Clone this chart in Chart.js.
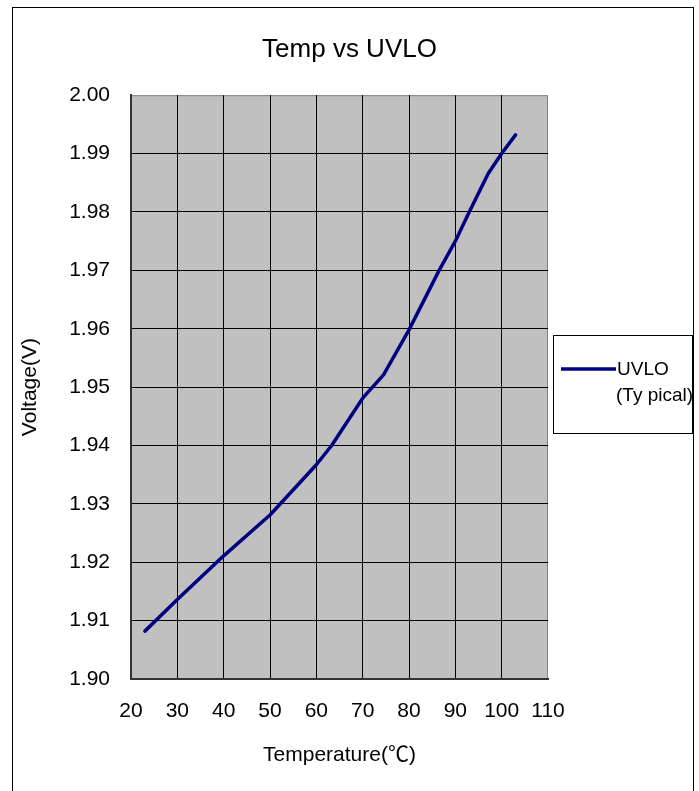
<!DOCTYPE html>
<html>
<head>
<meta charset="utf-8">
<title>Temp vs UVLO</title>
<script src="https://cdn.jsdelivr.net/npm/chart.js@4/dist/chart.umd.min.js"></script>
<style>
  html, body { margin: 0; padding: 0; background: #fff; }
  canvas { display: block; }
</style>
</head>
<body>
<canvas id="uvloChart" width="699" height="791"></canvas>
<script>
// ---- data ----
const temps = [23, 30, 40, 50, 60, 63.3, 70, 74.5, 80, 86.5, 90, 93, 97.1, 100, 103];
const uvlo  = [1.9082, 1.9136, 1.9211, 1.9281, 1.9367, 1.9400, 1.9481, 1.9521,
               1.9598, 1.9700, 1.9750, 1.9800, 1.9866, 1.9900, 1.9932];
const xTicks = [20, 30, 40, 50, 60, 70, 80, 90, 100, 110];
const yTicks = [1.90, 1.91, 1.92, 1.93, 1.94, 1.95, 1.96, 1.97, 1.98, 1.99, 2.00];
const seriesLabel = 'UVLO (Ty pical)';

const FONT = "'Liberation Sans', Arial, 'Noto Sans CJK JP', sans-serif";
const LINE_COLOR = '#000080';

// white page + outer frame + grey plot background
const framePlugin = {
  id: 'frame',
  beforeDraw(chart) {
    const { ctx, chartArea: a } = chart;
    ctx.save();
    ctx.fillStyle = '#fff';
    ctx.fillRect(0, 0, chart.width, chart.height);
    ctx.strokeStyle = '#000';
    ctx.lineWidth = 1;
    ctx.strokeRect(12.5, 7.5, 681, 800);
    ctx.fillStyle = '#c0c0c0';
    ctx.fillRect(a.left, a.top, a.right - a.left, a.bottom - a.top);
    ctx.strokeStyle = '#808080';
    ctx.strokeRect(a.left + 0.5, a.top + 0.5, a.right - a.left - 1, a.bottom - a.top);
    ctx.restore();
  }
};

// boxed legend on the right, label wrapped on two lines
const boxLegend = {
  id: 'boxLegend',
  afterDraw(chart) {
    const { ctx } = chart;
    const ds = chart.data.datasets[0];
    const parts = ds.label.split(' ');
    const lines = [parts[0], parts.slice(1).join(' ')];
    ctx.save();
    ctx.fillStyle = '#fff';
    ctx.fillRect(553, 335, 139, 98);
    ctx.strokeStyle = '#000';
    ctx.lineWidth = 1;
    ctx.strokeRect(553.5, 335.5, 139, 98);
    ctx.strokeStyle = ds.borderColor;
    ctx.lineWidth = 3.5;
    ctx.beginPath();
    ctx.moveTo(561, 369);
    ctx.lineTo(616, 369);
    ctx.stroke();
    ctx.fillStyle = '#000';
    ctx.textBaseline = 'middle';
    ctx.textAlign = 'left';
    ctx.font = "19px " + FONT;
    ctx.fillText(lines[0], 617, 370);
    ctx.fillText(lines[1], 616, 396);
    ctx.restore();
  }
};

const edgeColor = (ctx, edges) => edges.includes(ctx.tick && ctx.tick.value) ? 'rgba(0,0,0,0)' : '#000';

new Chart(document.getElementById('uvloChart'), {
  type: 'scatter',
  data: {
    datasets: [{
      label: seriesLabel,
      data: temps.map((t, i) => ({ x: t, y: uvlo[i] })),
      showLine: true,
      borderColor: LINE_COLOR,
      backgroundColor: LINE_COLOR,
      borderWidth: 3.5,
      pointRadius: 0,
      tension: 0,
      borderCapStyle: 'round',
      borderJoinStyle: 'round'
    }]
  },
  options: {
    responsive: false,
    animation: false,
    layout: { padding: 0 },
    plugins: {
      legend: { display: false },
      tooltip: { enabled: false },
      title: {
        display: true,
        text: 'Temp vs UVLO',
        color: '#000',
        font: { family: FONT, size: 26, weight: 'normal', lineHeight: 1.2 },
        padding: { top: 34, bottom: 30 }
      }
    },
    scales: {
      x: {
        type: 'linear',
        min: 20,
        max: 110,
        afterBuildTicks: s => { s.ticks = xTicks.map(v => ({ value: v })); },
        afterFit: s => { s.height = 112; },
        border: { display: true, color: '#333', width: 2 },
        grid: { color: c => edgeColor(c, [20, 110]), lineWidth: 1, drawTicks: false },
        ticks: { color: '#000', padding: 20, maxRotation: 0, autoSkip: false,
                 font: { family: FONT, size: 21 } },
        title: {
          display: true,
          text: 'Temperature(℃)',
          color: '#000',
          font: { family: FONT, size: 21 },
          padding: { top: 0, bottom: 23 }
        }
      },
      y: {
        type: 'linear',
        min: 1.90,
        max: 2.00,
        afterBuildTicks: s => { s.ticks = yTicks.map(v => ({ value: v })); },
        afterFit: s => { s.width = 131; },
        border: { display: true, color: '#333', width: 2 },
        grid: { color: c => edgeColor(c, [1.90, 2.00]), lineWidth: 1, drawTicks: false },
        ticks: { color: '#000', padding: 21, autoSkip: false,
                 font: { family: FONT, size: 21 },
                 callback: v => v.toFixed(2) },
        title: {
          display: true,
          text: 'Voltage(V)',
          color: '#000',
          font: { family: FONT, size: 21 },
          padding: { top: 18, bottom: 0 }
        }
      },
      // empty right-hand axis that only reserves room for the legend box
      legendSpace: {
        type: 'linear',
        position: 'right',
        display: true,
        afterFit: s => { s.width = 151; },
        border: { display: false },
        grid: { display: false, drawTicks: false },
        ticks: { display: false }
      }
    }
  },
  plugins: [framePlugin, boxLegend]
});
</script>
</body>
</html>
